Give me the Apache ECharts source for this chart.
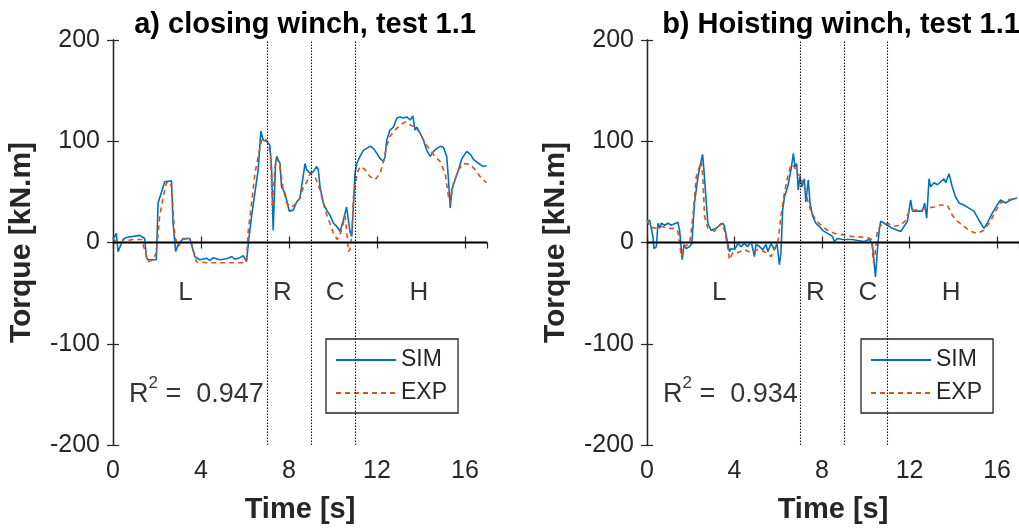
<!DOCTYPE html>
<html><head><meta charset="utf-8">
<script src="https://cdn.jsdelivr.net/npm/echarts@6/dist/echarts.min.js"></script>
<style>html,body{margin:0;padding:0;background:#fff}#c{width:1019px;height:531px}</style>
</head><body><div id="c"></div>
<script>
const titles = ['a) closing winch, test 1.1', 'b) Hoisting winch, test 1.1'];
const seriesNames = ['SIM', 'EXP'];
const phaseNames = ['L', 'R', 'C', 'H'];
const phaseTimes = [3.3, 7.7, 10.1, 13.9];
const phaseLevel = -50;
const phaseBounds = [7, 9, 11];
const r2Values = ['0.947', '0.934'];
const r2Anchor = [0.73, -147];

// a) closing winch
const simA = [[0,3],[0.15,9],[0.23,-9],[0.46,3],[0.61,5],[1.21,7],[1.44,4],[1.52,-15],[1.59,-17],[1.97,-17],[2.05,39],[2.35,60],[2.66,61],[2.73,19],[2.85,-9],[2.96,-2],[3.19,4],[3.49,4],[3.57,3],[3.72,-14],[3.95,-17],[4.25,-15.5],[4.40,-18],[4.55,-15],[4.86,-17],[5.16,-16],[5.39,-14],[5.54,-16.5],[5.77,-15],[5.92,-13],[6.07,-19],[6.15,-1],[6.30,26],[6.45,49],[6.60,72],[6.72,110],[6.83,101],[6.98,100],[7.13,96],[7.21,72],[7.28,12],[7.33,11],[7.39,78],[7.44,85],[7.59,78],[7.66,55],[7.81,49],[7.89,42],[8.01,31],[8.19,32],[8.35,40],[8.50,44],[8.57,55],[8.73,78],[8.80,72],[8.98,68],[9.10,70],[9.26,75],[9.33,72],[9.41,55],[9.56,39],[9.71,32],[9.86,27],[10.02,19],[10.17,16],[10.32,11],[10.47,22],[10.62,35],[10.70,22],[10.77,11],[10.85,6],[10.93,37],[11.00,68],[11.08,78],[11.23,85],[11.38,91],[11.53,93],[11.68,95],[11.84,93],[11.99,88],[12.14,83],[12.29,80],[12.37,85],[12.44,101],[12.59,111],[12.75,114],[12.90,123],[13.05,124],[13.20,123],[13.35,124],[13.51,121],[13.63,125],[13.73,111],[13.81,114],[13.96,108],[14.11,101],[14.26,91],[14.42,85],[14.57,90],[14.72,93],[14.87,95],[15.02,94],[15.17,85],[15.25,62],[15.33,34],[15.40,52],[15.55,62],[15.71,72],[15.86,83],[16.08,90],[16.24,87],[16.39,82],[16.62,78],[16.84,75],[16.97,76]];
const expA = [[0,4],[0.23,-1],[0.46,1],[0.91,3],[1.29,3],[1.44,-7],[1.59,-19],[1.82,-17],[1.97,-10],[2.12,26],[2.28,45],[2.43,59],[2.58,60],[2.66,55],[2.81,6],[2.96,-4],[3.19,3],[3.41,4],[3.57,-1],[3.79,-19],[4.25,-20],[5.00,-20],[5.92,-20],[6.07,-17],[6.15,12],[6.30,39],[6.45,68],[6.60,85],[6.75,101],[6.90,103],[7.06,98],[7.16,85],[7.25,35],[7.36,75],[7.47,83],[7.59,75],[7.74,52],[7.89,39],[8.12,35],[8.35,39],[8.50,44],[8.65,55],[8.80,59],[8.95,68],[9.18,65],[9.41,52],[9.64,32],[9.86,19],[10.02,9],[10.20,3],[10.32,8],[10.47,19],[10.55,26],[10.62,12],[10.70,-9],[10.77,-7],[10.85,6],[10.93,45],[11.08,68],[11.23,75],[11.46,72],[11.68,65],[11.91,62],[12.14,68],[12.29,80],[12.44,95],[12.59,105],[12.82,111],[13.05,116],[13.28,119],[13.51,116],[13.73,114],[13.96,108],[14.19,98],[14.42,91],[14.64,85],[14.87,80],[15.10,68],[15.25,45],[15.33,39],[15.48,59],[15.71,72],[15.93,78],[16.24,77],[16.46,72],[16.69,65],[16.97,59]];

// b) hoisting winch
const simB = [[0,21],[0.12,22],[0.20,21],[0.27,6],[0.32,-6],[0.43,-4],[0.50,19],[0.58,14],[0.65,19],[0.81,17],[0.96,19],[1.11,17],[1.41,20],[1.49,12],[1.57,-7],[1.61,-17],[1.69,-2],[1.79,-6],[1.95,-4],[2.05,-1],[2.17,39],[2.33,65],[2.45,78],[2.54,87],[2.60,72],[2.71,39],[2.78,19],[2.93,12],[3.16,14],[3.31,17],[3.47,19],[3.54,16],[3.69,-1],[3.77,-9],[3.84,-6],[4.00,-7],[4.15,-1],[4.30,-4],[4.45,-1],[4.60,-4],[4.76,1],[4.91,-14],[4.98,-2],[5.14,-4],[5.29,-7],[5.44,-2],[5.52,-9],[5.67,-1],[5.82,-7],[5.94,-1],[6.05,-22],[6.12,-10],[6.20,32],[6.28,45],[6.43,55],[6.58,72],[6.69,88],[6.76,75],[6.84,78],[6.91,52],[6.99,65],[7.08,55],[7.19,63],[7.26,40],[7.37,62],[7.45,39],[7.57,26],[7.72,19],[7.87,16],[8.02,12],[8.25,9],[8.48,6],[8.56,1],[8.71,4],[8.94,3],[9.16,3],[9.39,3],[9.62,2],[9.92,1],[10.15,3],[10.30,-1],[10.38,-20],[10.44,-34],[10.53,-7],[10.61,12],[10.68,21],[10.84,19],[10.99,17],[11.22,14],[11.44,12],[11.60,11],[11.75,16],[11.90,21],[12.05,42],[12.13,31],[12.36,31],[12.58,31],[12.69,39],[12.78,24],[12.89,63],[12.96,55],[13.12,59],[13.27,57],[13.42,60],[13.57,63],[13.65,59],[13.80,68],[13.95,55],[14.10,45],[14.26,39],[14.48,37],[14.71,34],[14.94,31],[15.17,22],[15.40,14],[15.55,19],[15.78,29],[16.00,37],[16.16,42],[16.38,39],[16.61,42],[16.91,44]];
const expB = [[0,22],[0.12,16],[0.35,14],[0.65,16],[0.96,14],[1.26,14],[1.41,11],[1.57,-14],[1.72,-4],[1.95,-1],[2.10,26],[2.25,65],[2.40,75],[2.48,80],[2.55,65],[2.63,26],[2.78,14],[3.09,11],[3.39,19],[3.54,12],[3.66,-1],[3.77,-17],[3.92,-10],[4.15,-10],[4.45,-7],[4.76,-10],[5.06,-7],[5.36,-9],[5.67,-14],[5.82,-7],[5.97,-2],[6.12,26],[6.28,49],[6.43,65],[6.58,77],[6.73,75],[6.88,68],[7.04,65],[7.19,55],[7.34,42],[7.49,31],[7.72,22],[7.95,17],[8.25,12],[8.56,9],[8.86,8],[9.32,6],[10.08,5],[10.26,3],[10.35,-20],[10.41,-14],[10.53,12],[10.68,17],[10.99,19],[11.29,16],[11.60,17],[11.82,22],[11.98,31],[12.20,32],[12.51,32],[12.81,34],[13.12,35],[13.42,37],[13.72,37],[13.95,27],[14.18,21],[14.48,16],[14.79,11],[15.09,9],[15.40,12],[15.70,21],[15.93,31],[16.16,39],[16.46,42],[16.91,44]];

const FONT = "'Liberation Sans', Arial, Helvetica, sans-serif";
const AX = '#262626';
const BLUE = '#0072BD';
const ORANGE = '#D95319';
const grids = [
  {left: 113, top: 40, width: 374, height: 405},
  {left: 647, top: 40, width: 373, height: 405}
];
const titleCenters = [300, 836];
const legendLefts = [326, 861];

const xAxes = [], yAxes = [], series = [], titleArr = [], legends = [];
[[simA, expA], [simB, expB]].forEach(([sim, exp], i) => {
  const lineCommon = {show: true, lineStyle: {color: AX, width: 1.3}};
  xAxes.push({
    type: 'value', gridIndex: i, min: 0, max: 17, interval: 4, position: 'bottom',
    axisLine: lineCommon, axisTick: {show: true, inside: true, length: 6, lineStyle: {color: AX, width: 1.2}},
    axisLabel: {fontSize: 25, color: AX, fontFamily: FONT, margin: 14, showMaxLabel: false},
    splitLine: {show: false},
    name: 'Time [s]', nameLocation: 'middle', nameGap: 50,
    nameTextStyle: {fontSize: 29, fontWeight: 'bold', color: AX, fontFamily: FONT}
  });
  xAxes.push({
    type: 'value', gridIndex: i, min: 0, max: 17, interval: 4, position: 'top',
    axisLine: lineCommon, axisTick: {show: true, inside: true, length: 6, lineStyle: {color: AX, width: 1.2}},
    axisLabel: {show: false}, splitLine: {show: false}
  });
  yAxes.push({
    type: 'value', gridIndex: i, min: -200, max: 200, interval: 100, position: 'left',
    axisLine: lineCommon, axisTick: {show: true, inside: true, length: 6, lineStyle: {color: AX, width: 1.2}},
    axisLabel: {fontSize: 25, color: AX, fontFamily: FONT, margin: 13},
    splitLine: {show: false},
    name: 'Torque [kN.m]', nameLocation: 'middle', nameGap: 76, nameRotate: 90,
    nameTextStyle: {fontSize: 30, fontWeight: 'bold', color: AX, fontFamily: FONT}
  });
  yAxes.push({
    type: 'value', gridIndex: i, min: -200, max: 200, interval: 100, position: 'right',
    axisLine: lineCommon, axisTick: {show: true, inside: true, length: 6, lineStyle: {color: AX, width: 1.2}},
    axisLabel: {show: false}, splitLine: {show: false}
  });
  titleArr.push({
    text: titles[i], left: titleCenters[i], top: 3, textAlign: 'center',
    textStyle: {fontSize: 29, fontWeight: 'bold', color: '#000', fontFamily: FONT, lineHeight: 34}
  });
  const xi = i * 2, yi = i * 2;
  series.push({
    name: seriesNames[0], type: 'line', xAxisIndex: xi, yAxisIndex: yi, data: sim,
    symbol: 'none', lineStyle: {color: BLUE, width: 1.6}, itemStyle: {color: BLUE}, z: 3,
    markLine: {
      silent: true, symbol: 'none', label: {show: false},
      data: [{yAxis: 0, lineStyle: {color: '#000', width: 1.3, type: 'solid'}}]
        .concat(phaseBounds.map(b => ({xAxis: b, lineStyle: {color: '#111', width: 1.1, type: [1.5, 1.5]}})))
    }
  });
  series.push({
    name: seriesNames[1], type: 'line', xAxisIndex: xi, yAxisIndex: yi, data: exp,
    symbol: 'none', lineStyle: {color: ORANGE, width: 1.6, type: [5, 4]}, itemStyle: {color: ORANGE}, z: 4
  });
  series.push({
    type: 'scatter', xAxisIndex: xi, yAxisIndex: yi, symbolSize: 0, silent: true,
    data: phaseNames.map((n, k) => ({name: n, value: [phaseTimes[k], phaseLevel]})),
    label: {show: true, position: 'inside', formatter: '{b}', fontSize: 26, color: '#000', fontFamily: FONT}
  });
  series.push({
    type: 'scatter', xAxisIndex: xi, yAxisIndex: yi, symbolSize: 0, silent: true,
    data: [{name: r2Values[i], value: r2Anchor}],
    label: {
      show: true, position: 'right', distance: 0,
      formatter: '{r|R}{s|2}{r| =  ' + r2Values[i] + '}',
      rich: {
        r: {fontSize: 27, lineHeight: 34, verticalAlign: 'bottom', color: '#000', fontFamily: FONT},
        s: {fontSize: 17, lineHeight: 17, verticalAlign: 'top', color: '#000', fontFamily: FONT}
      }
    }
  });
  legends.push({
    data: seriesNames, left: legendLefts[i], top: 339, orient: 'vertical',
    selectedMode: false, itemWidth: 60, itemHeight: 14, itemGap: 9,
    itemStyle: {opacity: 0},
    padding: [9, 11, 8, 9], borderColor: AX, borderWidth: 1.3, backgroundColor: '#fff',
    textStyle: {fontSize: 23, lineHeight: 24, color: AX, fontFamily: FONT}
  });
});

const chart = echarts.init(document.getElementById('c'), null, {renderer: 'canvas'});
chart.setOption({
  animation: false,
  backgroundColor: '#fff',
  title: titleArr,
  legend: legends,
  grid: grids,
  xAxis: xAxes,
  yAxis: yAxes,
  series: series
});
</script></body></html>
